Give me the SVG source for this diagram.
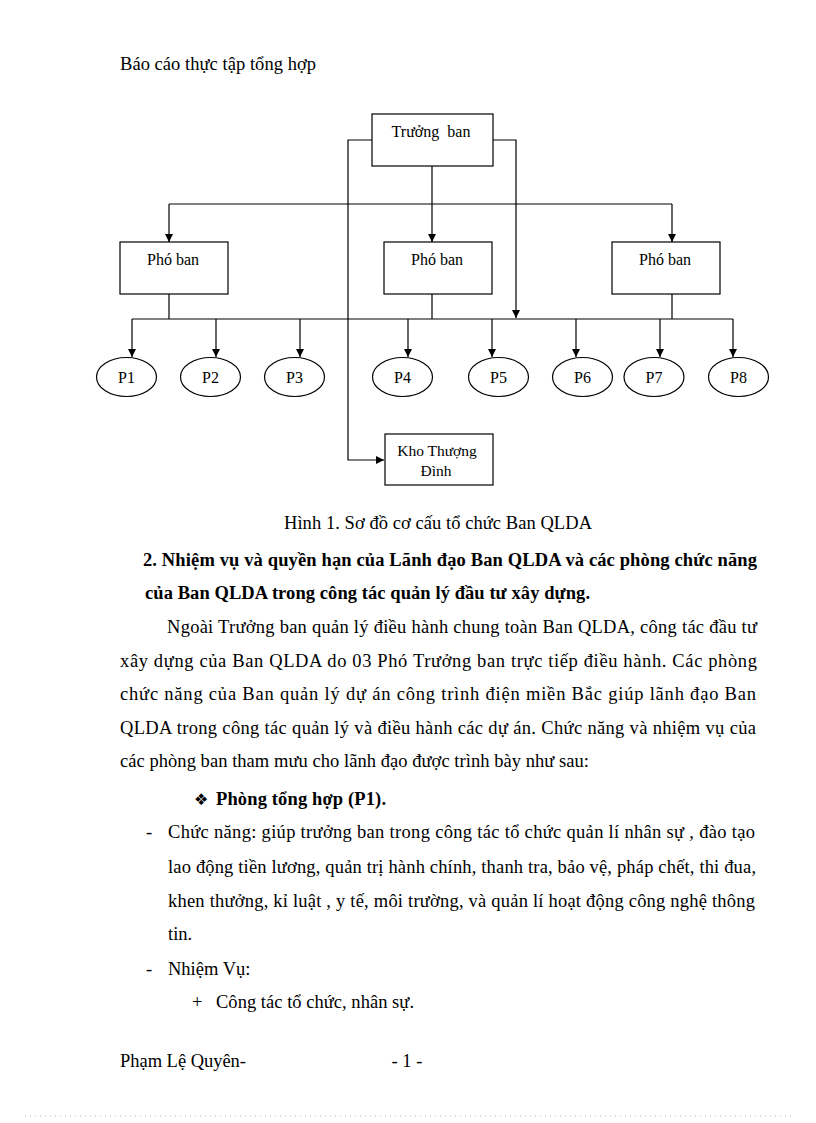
<svg xmlns="http://www.w3.org/2000/svg" width="816" height="1123" viewBox="0 0 816 1123">
<style>
text{font-family:"Liberation Serif","DejaVu Serif",serif;fill:#000}
.b{font-size:18.5px}
.bd{font-size:18.5px;font-weight:bold}
.lbl{font-size:16px}
.box{fill:#fff;stroke:#000;stroke-width:1.2}
.con{fill:none;stroke:#000;stroke-width:1.2}
</style>
<defs>
<marker id="arr" markerUnits="userSpaceOnUse" markerWidth="10" markerHeight="10" refX="8" refY="4" orient="auto">
<path d="M0,0 L8,4 L0,8 Z" fill="#000"/>
</marker>
</defs>
<rect width="816" height="1123" fill="#fff"/>
<text class="b" x="120" y="70" textLength="196" lengthAdjust="spacing">Báo cáo thực tập tổng hợp</text>

<g id="connectors">
<path class="con" d="M372,140 H348 V460 H384" marker-end="url(#arr)"/>
<path class="con" d="M492,140 H516 V318" marker-end="url(#arr)"/>
<path class="con" d="M432,166 V242" marker-end="url(#arr)"/>
<path class="con" d="M169,204 H672"/>
<path class="con" d="M169,204 V242" marker-end="url(#arr)"/>
<path class="con" d="M672,204 V242" marker-end="url(#arr)"/>
<path class="con" d="M169,294 V319 M432,294 V319 M672,294 V319"/>
<path class="con" d="M132,319 H733"/>
<path class="con" d="M132,319 V357" marker-end="url(#arr)"/>
<path class="con" d="M216,319 V357" marker-end="url(#arr)"/>
<path class="con" d="M300,319 V357" marker-end="url(#arr)"/>
<path class="con" d="M408,319 V357" marker-end="url(#arr)"/>
<path class="con" d="M492,319 V357" marker-end="url(#arr)"/>
<path class="con" d="M576,319 V357" marker-end="url(#arr)"/>
<path class="con" d="M660,319 V357" marker-end="url(#arr)"/>
<path class="con" d="M733,319 V357" marker-end="url(#arr)"/>
</g>

<g id="truong-ban"><rect class="box" x="372" y="114" width="121" height="52"/><text class="lbl" x="431" y="137" text-anchor="middle" xml:space="preserve">Trưởng  ban</text></g>
<g id="pho-ban-1"><rect class="box" x="120" y="242" width="108" height="52"/><text class="lbl" x="173" y="265" text-anchor="middle">Phó ban</text></g>
<g id="pho-ban-2"><rect class="box" x="384" y="242" width="108" height="52"/><text class="lbl" x="437" y="265" text-anchor="middle">Phó ban</text></g>
<g id="pho-ban-3"><rect class="box" x="612" y="242" width="108" height="52"/><text class="lbl" x="665" y="265" text-anchor="middle">Phó ban</text></g>

<g id="p1"><ellipse class="box" cx="126.5" cy="377" rx="30" ry="19.5"/><text class="lbl" x="126.5" y="383" text-anchor="middle">P1</text></g>
<g id="p2"><ellipse class="box" cx="210.5" cy="377" rx="30" ry="19.5"/><text class="lbl" x="210.5" y="383" text-anchor="middle">P2</text></g>
<g id="p3"><ellipse class="box" cx="294.5" cy="377" rx="30" ry="19.5"/><text class="lbl" x="294.5" y="383" text-anchor="middle">P3</text></g>
<g id="p4"><ellipse class="box" cx="402.5" cy="377" rx="30" ry="19.5"/><text class="lbl" x="402.5" y="383" text-anchor="middle">P4</text></g>
<g id="p5"><ellipse class="box" cx="498.5" cy="377" rx="30" ry="19.5"/><text class="lbl" x="498.5" y="383" text-anchor="middle">P5</text></g>
<g id="p6"><ellipse class="box" cx="582.5" cy="377" rx="30" ry="19.5"/><text class="lbl" x="582.5" y="383" text-anchor="middle">P6</text></g>
<g id="p7"><ellipse class="box" cx="654" cy="377" rx="30" ry="19.5"/><text class="lbl" x="654" y="383" text-anchor="middle">P7</text></g>
<g id="p8"><ellipse class="box" cx="738.5" cy="377" rx="30" ry="19.5"/><text class="lbl" x="738.5" y="383" text-anchor="middle">P8</text></g>

<g id="kho"><rect class="box" x="385" y="434" width="108" height="51"/><text class="lbl" x="437" y="456" text-anchor="middle" style="font-size:15.5px">Kho Thượng</text><text class="lbl" x="436" y="476" text-anchor="middle" style="font-size:15.5px">Đình</text></g>

<text class="b" x="284" y="529" textLength="308" lengthAdjust="spacing">Hình 1. Sơ đồ cơ cấu tổ chức Ban QLDA</text>
<text class="bd" x="143" y="566" textLength="614" lengthAdjust="spacing">2. Nhiệm vụ và quyền hạn của Lãnh đạo Ban QLDA và các phòng chức năng</text>
<text class="bd" x="145" y="599" textLength="445" lengthAdjust="spacing">của Ban QLDA trong công tác quản lý đầu tư xây dựng.</text>
<text class="b" x="167" y="633" textLength="590" lengthAdjust="spacing">Ngoài Trưởng ban quản lý điều hành chung toàn Ban QLDA, công tác đầu tư</text>
<text class="b" x="120" y="667" textLength="637" lengthAdjust="spacing">xây dựng của Ban QLDA do 03 Phó Trưởng ban trực tiếp điều hành. Các phòng</text>
<text class="b" x="120" y="700" textLength="636" lengthAdjust="spacing">chức năng của Ban quản lý dự án công trình điện miền Bắc giúp lãnh đạo Ban</text>
<text class="b" x="120" y="734" textLength="636" lengthAdjust="spacing">QLDA trong công tác quản lý và điều hành các dự án. Chức năng và nhiệm vụ của</text>
<text class="b" x="120" y="767" textLength="469" lengthAdjust="spacing">các phòng ban tham mưu cho lãnh đạo được trình bày như sau:</text>

<text x="194" y="805" style="font-family:'DejaVu Sans',sans-serif;font-size:16px">❖</text>
<text class="bd" x="216" y="805" textLength="170" lengthAdjust="spacing">Phòng tổng hợp (P1).</text>
<text class="b" x="146" y="838">-</text>
<text class="b" x="168" y="838" textLength="587" lengthAdjust="spacing">Chức năng: giúp trưởng ban trong công tác tổ chức quản lí nhân sự , đào tạo</text>
<text class="b" x="168" y="873" textLength="588" lengthAdjust="spacing">lao động tiền lương, quản trị hành chính, thanh tra, bảo vệ, pháp chết, thi đua,</text>
<text class="b" x="168" y="907" textLength="587" lengthAdjust="spacing">khen thưởng, kỉ luật , y tế, môi trường, và quản lí hoạt động công nghệ thông</text>
<text class="b" x="168" y="940">tin.</text>
<text class="b" x="146" y="975">-</text>
<text class="b" x="168" y="975">Nhiệm Vụ:</text>
<text class="b" x="192" y="1008">+</text>
<text class="b" x="216" y="1008" textLength="198" lengthAdjust="spacing">Công tác tổ chức, nhân sự.</text>

<text class="b" x="120" y="1067" textLength="126" lengthAdjust="spacing">Phạm Lệ Quyên-</text>
<text class="b" x="407" y="1067" text-anchor="middle">- 1 -</text>

<line x1="25" y1="1116" x2="792" y2="1116" stroke="#bbb" stroke-width="1" stroke-dasharray="1,4"/>
</svg>
